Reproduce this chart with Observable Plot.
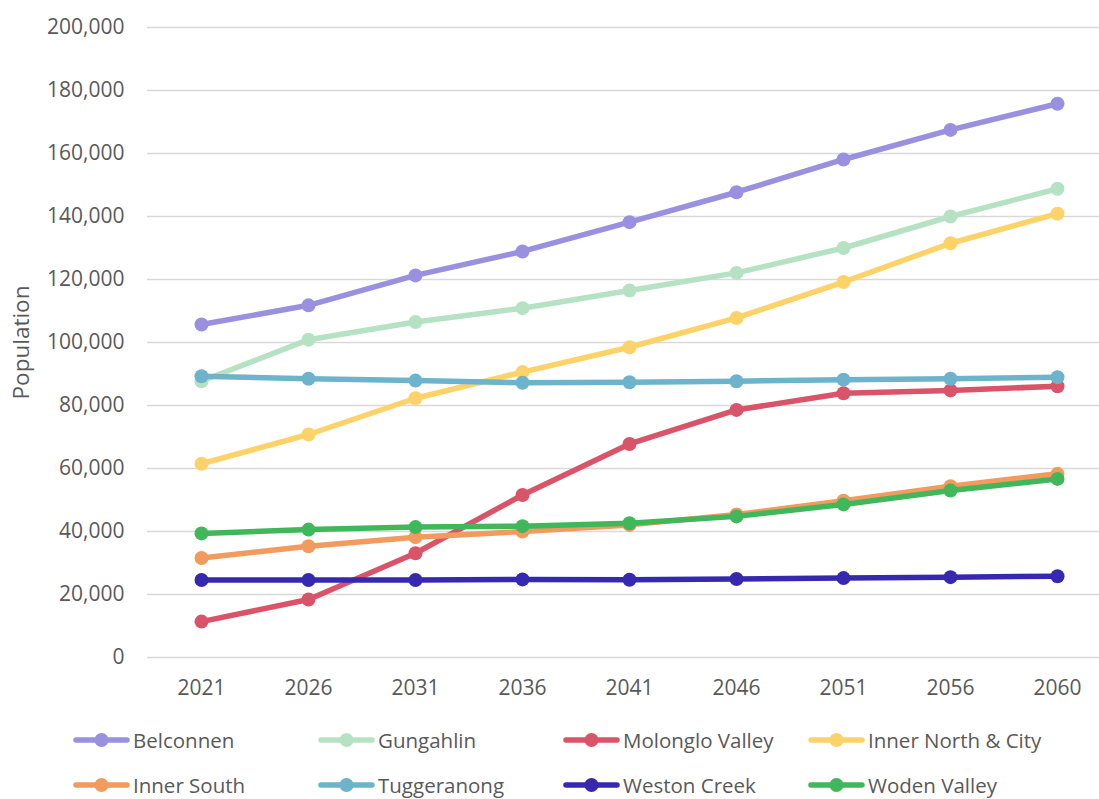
<!DOCTYPE html>
<html>
<head>
<meta charset="utf-8">
<script src="https://cdn.jsdelivr.net/npm/d3@7"></script>
<script src="https://cdn.jsdelivr.net/npm/@observablehq/plot@0.6"></script>
<style>
  body { margin: 0; background: #fff; font-family: "Open Sans", sans-serif; color: #595959; }
  #legend { display: grid; grid-template-columns: repeat(4, 245px); margin-left: 73px; margin-top: 2px; }
  .item { display: flex; align-items: center; height: 45px; font-size: 20.5px; white-space: nowrap; }
  .item svg { margin-right: 3px; flex: none; }
</style>
</head>
<body>
<div id="chart"></div>
<div id="legend"></div>
<script>
// Projected population by ACT district
const years = ["2021", "2026", "2031", "2036", "2041", "2046", "2051", "2056", "2060"];

const belconnen   = [105700, 111800, 121300, 128900, 138200, 147700, 158100, 167500, 175800];
const gungahlin   = [87700, 100900, 106500, 110900, 116500, 122100, 130000, 140000, 148800];
const molonglo    = [11400, 18400, 33100, 51600, 67800, 78600, 83900, 84800, 86100];
const innerNorth  = [61500, 70800, 82300, 90600, 98500, 107800, 119200, 131500, 140900];
const innerSouth  = [31600, 35300, 38200, 40000, 42100, 45400, 49800, 54400, 58300];
const tuggeranong = [89300, 88500, 87900, 87200, 87400, 87700, 88200, 88500, 89000];
const westonCreek = [24600, 24600, 24600, 24800, 24700, 24900, 25200, 25500, 25800];
const wodenValley = [39400, 40600, 41400, 41700, 42600, 44800, 48600, 53000, 56700];

const districts = ["Belconnen", "Gungahlin", "Molonglo Valley", "Inner North & City",
                   "Inner South", "Tuggeranong", "Weston Creek", "Woden Valley"];
const colors = ["#9a90e0", "#b6e2c4", "#d95468", "#fdd268",
                "#f19b5f", "#6db3cb", "#3629b0", "#41b75b"];
const seriesValues = [belconnen, gungahlin, molonglo, innerNorth,
                      innerSouth, tuggeranong, westonCreek, wodenValley];

const rows = districts.flatMap((name, i) =>
  years.map((year, j) => ({name, year, value: seriesValues[i][j]})));

const yTicks = d3.range(0, 200001, 20000);

// each series: line first, then its markers, drawn in series order
const seriesMarks = districts.flatMap(name => {
  const data = rows.filter(d => d.name === name);
  return [
    Plot.line(data, {x: "year", y: "value", stroke: "name", strokeWidth: 5.5, strokeLinejoin: "round", strokeLinecap: "round"}),
    Plot.dot(data, {x: "year", y: "value", fill: "name", r: 7})
  ];
});

const chart = Plot.plot({
  width: 1099,
  height: 715,
  marginTop: 27,
  marginBottom: 58,
  marginLeft: 147,
  marginRight: 0,
  style: {fontFamily: "Open Sans, sans-serif", fontSize: "21px", color: "#595959", background: "#fff"},
  x: {type: "point", domain: years, range: [199.5, 1058], padding: 0},
  y: {domain: [0, 200000], ticks: yTicks},
  color: {domain: districts, range: colors},
  marks: [
    Plot.gridY({ticks: yTicks, stroke: "#d9d9d9", strokeOpacity: 1, strokeWidth: 1.6}),
    Plot.axisY({ticks: yTicks, tickSize: 0, tickPadding: 23, tickFormat: d3.format(","), label: null}),
    Plot.axisY({ticks: [], tickSize: 0, fontSize: 22.5,
                label: "Population", labelAnchor: "center", labelArrow: "none", labelOffset: 134}),
    Plot.axisX({tickSize: 0, tickPadding: 23, label: null}),
    ...seriesMarks
  ]
});
document.getElementById("chart").appendChild(chart);

// legend: two rows of four entries
const legend = document.getElementById("legend");
districts.forEach((name, i) => {
  const item = document.createElement("div");
  item.className = "item";
  item.innerHTML =
    `<svg width="57" height="16"><line x1="3" x2="54" y1="8" y2="8" stroke="${colors[i]}" stroke-width="5.5" stroke-linecap="round"/>` +
    `<circle cx="28.5" cy="8" r="7" fill="${colors[i]}"/></svg><span>${name.replace("&", "&amp;")}</span>`;
  legend.appendChild(item);
});
</script>
</body>
</html>
